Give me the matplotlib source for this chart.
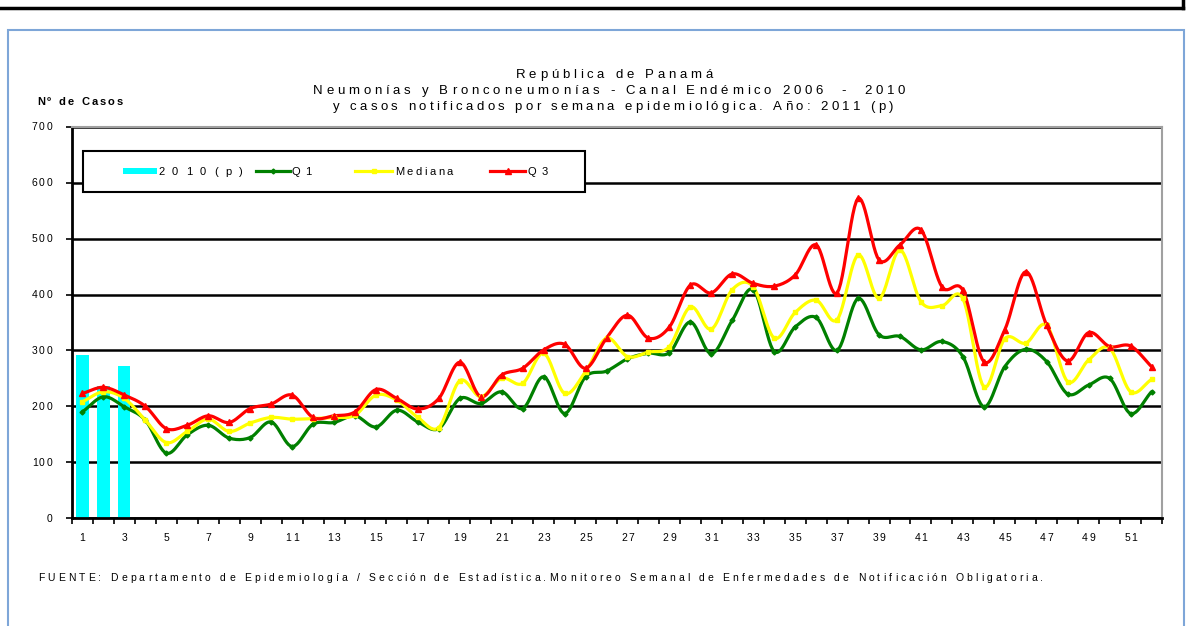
import matplotlib
matplotlib.use("Agg")
import matplotlib.pyplot as plt
from matplotlib.patches import Rectangle
from matplotlib.lines import Line2D
from matplotlib.font_manager import FontProperties, findfont
from matplotlib.ft2font import FT2Font
import numpy as np

FAMILY = ["Liberation Sans", "DejaVu Sans"]
plt.rcParams["font.family"] = FAMILY

# semanas epidemiologicas
weeks = list(range(1, 53))

# casos 2011 (p) - solo primeras semanas
casos_weeks = [1, 2, 3]
casos = [292, 237, 272]

q1 = [190, 217, 199, 175, 116, 149, 166, 143, 144, 172,
      128, 168, 171, 183, 163, 193, 172, 160, 214, 205,
      226, 196, 253, 187, 253, 263, 285, 295, 296, 351,
      294, 354, 409, 298, 342, 359, 300, 393, 328, 325,
      301, 316, 289, 199, 271, 302, 280, 222, 238, 250,
      187, 226]

mediana = [208, 226, 214, 175, 135, 155, 177, 155, 170, 180,
           177, 178, 180, 184, 220, 211, 180, 162, 246, 217,
           250, 241, 295, 223, 262, 322, 289, 297, 307, 378,
           338, 409, 414, 322, 368, 390, 355, 471, 393, 480,
           387, 380, 393, 235, 321, 313, 345, 244, 283, 304,
           226, 248]

q3 = [223, 234, 220, 200, 160, 166, 183, 171, 196, 204,
      220, 180, 183, 190, 230, 214, 195, 214, 279, 217,
      256, 268, 301, 311, 268, 322, 363, 322, 342, 417,
      403, 437, 420, 415, 435, 489, 403, 572, 462, 489,
      516, 414, 408, 280, 337, 441, 345, 281, 332, 307,
      308, 271]

yticks = list(range(0, 701, 100))
xlabels_weeks = list(range(1, 53, 2))

title_lines = ["República de Panamá",
               "Neumonías y Bronconeumonías - Canal Endémico 2006  -  2010",
               "y casos notificados por semana epidemiológica. Año: 2011 (p)"]
ylabel = "Nº de Casos"
fuente = ("FUENTE: Departamento de Epidemiología / Sección de Estadística."
          "Monitoreo Semanal de Enfermedades de Notificación Obligatoria.")

W, H = 1186, 626


def smooth(x, y, n=12):
    # curva suavizada tipo excel (catmull-rom) para dibujar la linea
    x = np.asarray(x, float)
    y = np.asarray(y, float)
    px = np.concatenate([[2 * x[0] - x[1]], x, [2 * x[-1] - x[-2]]])
    py = np.concatenate([[2 * y[0] - y[1]], y, [2 * y[-1] - y[-2]]])
    xs, ys = [], []
    t = np.linspace(0, 1, n, endpoint=False)
    for i in range(1, len(px) - 2):
        for p, out in ((px, xs), (py, ys)):
            p0, p1, p2, p3 = p[i - 1], p[i], p[i + 1], p[i + 2]
            out.extend(0.5 * ((2 * p1) + (-p0 + p2) * t
                              + (2 * p0 - 5 * p1 + 4 * p2 - p3) * t ** 2
                              + (-p0 + 3 * p1 - 3 * p2 + p3) * t ** 3))
    xs.append(x[-1])
    ys.append(y[-1])
    return np.array(xs), np.array(ys)


def advances(s, fp):
    font = FT2Font(findfont(fp))
    font.set_size(fp.get_size_in_points(), 100)
    return [font.load_char(ord(c)).linearHoriAdvance / 65536 for c in s]


def spaced_text(fig, x, y, s, size, track=0.0, width=None, ha="left",
                weight="normal", color="black"):
    # texto con espaciado entre letras; x, y en pixeles desde arriba-izquierda (linea base)
    fp = FontProperties(family=FAMILY, size=size, weight=weight)
    adv = advances(s, fp)
    if width is not None and len(s) > 1:
        track = (width - sum(adv)) / (len(s) - 1)
    total = sum(adv) + track * (len(s) - 1)
    if ha == "center":
        x -= total / 2
    elif ha == "right":
        x -= total
    for c, a in zip(s, adv):
        if c != " ":
            fig.text(x / W, 1 - y / H, c, ha="left", va="baseline",
                     fontproperties=fp, color=color, zorder=10)
        x += a + track


fig = plt.figure(figsize=(W / 100, H / 100), dpi=100)

# marcos exteriores
fig.patches.append(Rectangle((8 / W, -0.01), 1176 / W, 1 - 30 / H + 0.01,
                             transform=fig.transFigure, fill=False,
                             edgecolor="#7ea6d8", linewidth=1.5))
fig.add_artist(Line2D([0, 1183 / W], [1 - 8 / H, 1 - 8 / H], transform=fig.transFigure,
                      color="black", linewidth=2.5))
fig.add_artist(Line2D([1183 / W, 1183 / W], [1 - 8 / H, 1.0], transform=fig.transFigure,
                      color="black", linewidth=2.5))

ax = fig.add_axes([72 / W, 1 - 518 / H, (1162 - 72) / W, (518 - 127) / H])

ax.bar(casos_weeks, casos, width=0.58, color="#00ffff", zorder=2)

series = [
    (q1, "#008000", "D", 2.5, "Q1"),
    (mediana, "#ffff00", "s", 2.5, "Mediana"),
    (q3, "#ff0000", "^", 4.5, "Q3"),
]
for vals, col, mk, ms, lab in series:
    sx, sy = smooth(weeks, vals)
    ax.plot(sx, sy, color=col, linewidth=2.3, zorder=3, solid_capstyle="round")
    ax.plot(weeks, vals, linestyle="none", marker=mk, markersize=ms,
            color=col, zorder=4)

ax.set_xlim(0.5, 52.5)
ax.set_ylim(0, 700)
ax.set_yticks(yticks)
ax.set_yticklabels([])
ax.set_xticks(xlabels_weeks)
ax.set_xticklabels([])
ax.set_xticks(np.arange(0.5, 53, 1), minor=True)
ax.tick_params(axis="x", which="major", length=0)
ax.tick_params(axis="x", which="minor", length=4, width=1.2, direction="out")
ax.tick_params(axis="y", length=4, width=1.2)

ax.grid(axis="y", color="black", linewidth=1.8, zorder=1)
ax.set_axisbelow(True)
for s in ["top", "right"]:
    ax.spines[s].set_color("#a0a0a0")
    ax.spines[s].set_linewidth(1.5)
for s in ["left", "bottom"]:
    ax.spines[s].set_color("black")
    ax.spines[s].set_linewidth(2)

# etiquetas de los ejes (con espaciado)
for v in yticks:
    py = H - ax.transData.transform((1, v))[1]
    spaced_text(fig, 52, py + 3.5, str(v), 7.5, track=1.4, ha="right")
for wk in xlabels_weeks:
    px = ax.transData.transform((wk, 0))[0]
    spaced_text(fig, px, 541, str(wk), 7.5, track=1.4, ha="center")

# leyenda dibujada a mano
fig.patches.append(Rectangle((83 / W, 1 - 192 / H), 502 / W, 41 / H,
                             transform=fig.transFigure, facecolor="white",
                             edgecolor="black", linewidth=1.5, zorder=5))
ly = 1 - 171 / H
fig.patches.append(Rectangle((123 / W, 1 - 174 / H), 34 / W, 6 / H,
                             transform=fig.transFigure, facecolor="#00ffff",
                             edgecolor="none", zorder=6))
leg_items = [(256, 290, "#008000", "D", 2.5), (355, 392, "#ffff00", "s", 2.5),
             (490, 525, "#ff0000", "^", 4.5)]
for x0, x1, col, mk, ms in leg_items:
    fig.add_artist(Line2D([x0 / W, x1 / W], [ly, ly], transform=fig.transFigure,
                          color=col, linewidth=2.3, zorder=6))
    fig.add_artist(Line2D([(x0 + x1) / 2 / W], [ly], transform=fig.transFigure,
                          color=col, marker=mk, markersize=ms, zorder=7))
for x0, w, lab in [(158, 85, "2010(p)"), (292, 19, "Q1"), (395, 58, "Mediana"),
                   (528, 20, "Q3")]:
    spaced_text(fig, x0, 175, lab, 8, width=w)

# titulos y notas
spaced_text(fig, 614, 78, title_lines[0], 9.5, width=197, ha="center")
spaced_text(fig, 609, 94, title_lines[1], 9.5, width=592, ha="center")
spaced_text(fig, 613, 110, title_lines[2], 9.5, width=560, ha="center")
spaced_text(fig, 37, 105, ylabel, 8, width=86, weight="bold")
spaced_text(fig, 38, 581, fuente, 7.5, width=1005)

fig.savefig("out.png", dpi=100)
